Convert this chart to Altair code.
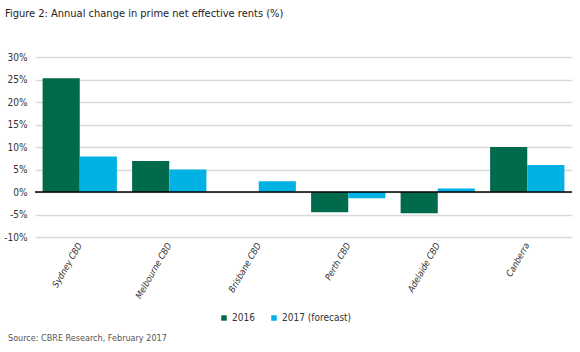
import altair as alt
import pandas as pd

cities = ["Sydney CBD", "Melbourne CBD", "Brisbane CBD", "Perth CBD", "Adelaide CBD", "Canberra"]
series_names = ["2016", "2017 (forecast)"]
values_2016 = [25.3, 6.9, 0.0, -4.5, -4.7, 10.0]
values_2017 = [7.9, 5.0, 2.4, -1.4, 0.8, 6.0]
y_ticks = [-10, -5, 0, 5, 10, 15, 20, 25, 30]
colors = ["#006A4D", "#00B2E3"]

rows = []
for c, a, b in zip(cities, values_2016, values_2017):
    rows.append({"city": c, "series": series_names[0], "value": a})
    rows.append({"city": c, "series": series_names[1], "value": b})
df = pd.DataFrame(rows)

FONT = "DejaVu Sans Condensed, DejaVu Sans"

y_axis = alt.Axis(values=y_ticks, labelExpr="datum.value + '%'", ticks=False,
                  domain=False, grid=True, gridColor="#d9d9d9", gridWidth=1.5,
                  labelOverlap=False, labelFont=FONT, labelFontSize=10,
                  labelColor="#333333", labelPadding=8, tickCount=9)
y_scale = alt.Scale(domain=[-10, 30], nice=False)

bars = alt.Chart(df).mark_bar().encode(
    x=alt.X("city:N", sort=cities, title=None,
            scale=alt.Scale(paddingInner=0.17, paddingOuter=0.085),
            axis=alt.Axis(labelAngle=-60, labelAlign="right", labelBaseline="middle",
                          labelFont=FONT, labelFontStyle="italic", labelFontSize=9,
                          labelColor="#333333", ticks=False, domain=False, labelPadding=6)),
    xOffset=alt.XOffset("series:N", sort=series_names),
    y=alt.Y("value:Q", title=None, scale=y_scale, axis=y_axis),
    color=alt.Color("series:N", sort=series_names,
                    scale=alt.Scale(domain=series_names, range=colors),
                    legend=alt.Legend(title=None, orient="none", legendX=184, legendY=256,
                                      direction="horizontal", symbolType="square",
                                      symbolSize=30, labelFont=FONT, labelFontSize=10,
                                      labelColor="#333333", columnPadding=14,
                                      symbolStrokeWidth=0, labelOffset=3)),
)

zero = alt.Chart(pd.DataFrame({"value": [0]})).mark_rule(color="black", strokeWidth=1.3).encode(
    y=alt.Y("value:Q", title=None, scale=y_scale, axis=y_axis))

title_df = pd.DataFrame({"t": ["Figure 2: Annual change in prime net effective rents (%)"]})
title = alt.Chart(title_df).mark_text(align="left", baseline="middle", font=FONT,
                                      fontSize=11, color="#222222").encode(
    text="t:N", x=alt.value(-30), y=alt.value(-43))

src_df = pd.DataFrame({"t": ["Source: CBRE Research, February 2017"]})
source = alt.Chart(src_df).mark_text(align="left", baseline="middle", font=FONT,
                                     fontSize=9, color="#555555").encode(
    text="t:N", x=alt.value(-27), y=alt.value(281))

chart = alt.layer(bars, zero, title, source).properties(
    width=537, height=180,
    autosize=alt.AutoSizeParams(type="none"),
    padding={"left": 35, "top": 57, "right": 8, "bottom": 115},
).configure_view(stroke=None)

chart.save("out.html", embed_options={"renderer": "svg", "actions": False})
